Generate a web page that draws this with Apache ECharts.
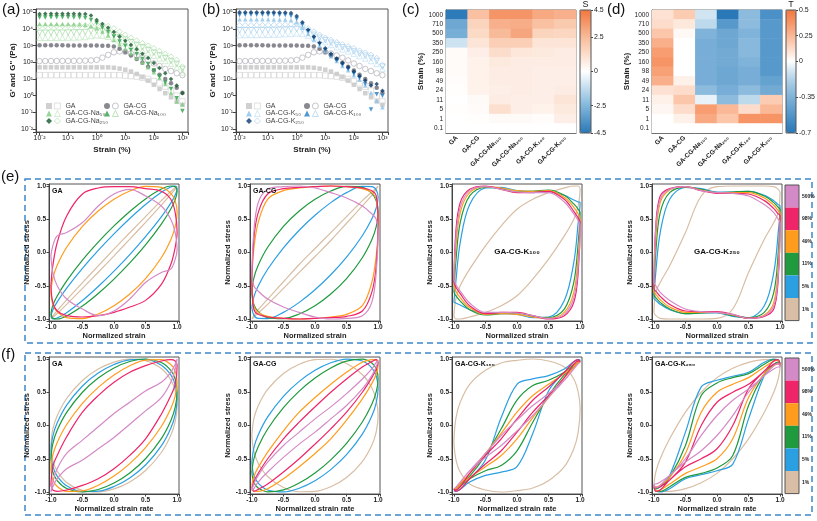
<!DOCTYPE html>
<html><head><meta charset="utf-8">
<script src="https://cdn.jsdelivr.net/npm/echarts@6/dist/echarts.min.js"></script>
<style>html,body{margin:0;padding:0;background:#fff}#c{width:817px;height:521px}</style>
</head><body><div id="c"></div>
<script>
// ================= DATA =================
// (a)/(b) amplitude sweeps: strain (%) and moduli (Pa)
const strainPct = [0.01,0.0158,0.0251,0.0398,0.0631,0.1,0.158,0.251,0.398,0.631,1,1.58,2.51,3.98,6.31,10,15.8,25.1,39.8,63.1,100,158,251,398,631,1000];
const GA_Gp    = [50,50,50,50,50,50,50,50,50,50,50,50,50,47,42,36,28,20,13,8,4.5,2.5,1.4,0.8,0.45,0.28];
const GA_Gpp   = [17,17,17,17,17,17,17,17,17,17,17,17,17,17,17,16,15,14,12,10,7.5,5.5,3.5,2,1,0.45];
const GACG_Gp  = [1050,1050,1040,1040,1040,1030,1030,1030,1020,1020,1010,1000,980,900,650,420,260,160,95,55,32,18,10,5.5,3,1.5];
const GACG_Gpp = [118,119,120,120,121,121,122,123,125,130,140,190,280,400,450,420,340,260,190,130,85,60,40,30,22,17];
const Na50_Gp   = [20000,20000,20000,19800,19800,19600,19500,19200,18000,15000,11000,7000,4000,2200,1200,650,350,190,100,50,25,12,5,1.5,0.45,0.3];
const Na50_Gpp  = [2950,2980,3000,3000,3020,3050,3100,3180,3300,3800,4200,4000,3400,2600,1900,1400,1000,700,500,350,250,170,120,80,50,25];
const Na100_Gp  = [49000,49500,50000,50000,50000,49800,49500,49000,45000,35000,22000,12000,6500,3500,1800,1000,550,300,160,80,32,14,6,2.5,0.7,0.12];
const Na100_Gpp = [5900,5950,6000,6000,6050,6100,6200,6300,6600,7500,8000,7500,6000,4500,3200,2300,1600,1100,800,550,380,260,180,120,80,40];
const Na250_Gp  = [80000,81000,82000,82000,82000,81500,81000,80500,79000,65000,35000,20000,12000,6500,3600,2000,1100,600,330,180,90,45,22,10,4,1.4];
const Na250_Gpp = [14500,14700,14800,15000,15000,15200,15500,16000,16500,17500,19000,18000,15000,11000,7000,4500,3000,2000,1400,1000,700,480,330,220,140,55];
const K50_Gp    = [38000,38000,38500,38500,38000,38000,37500,37000,36500,35000,25000,12000,5000,2200,1000,480,230,120,60,33,17,9,4,1.5,0.5,0.2];
const K50_Gpp   = [4300,4350,4400,4400,4450,4500,4600,4750,4900,5000,5500,5000,4000,3000,2200,1600,1100,800,600,450,330,240,170,120,80,40];
const K100_Gp   = [70000,71000,72000,72000,72000,71500,71000,70000,69000,60000,40000,18000,7000,2800,1200,550,260,130,70,38,20,11,5,0.15,1.2,1.0];
const K100_Gpp  = [8300,8400,8500,8500,8600,8700,8800,9000,9200,9500,10000,9000,6500,4500,3000,2100,1500,1100,800,600,450,330,250,180,120,55];
const K250_Gp   = [100000,101000,102000,102000,102000,101000,100000,99000,97000,90000,60000,25000,9000,3500,1500,700,330,170,90,50,28,15,8,4,5,2];
const K250_Gpp  = [16500,16700,16800,17000,17000,17200,17500,18000,18500,19000,20000,16000,11000,7000,4500,3000,2200,1600,1200,900,700,500,380,280,180,70];

// (c)/(d) heatmaps: rows top -> bottom, one array per sample column
const heatSamples = ['GA','GA-CG','GA-CG-Na₁₀₀','GA-CG-Na₂₅₀','GA-CG-K₁₀₀','GA-CG-K₂₅₀'];
const strainRows = ['1000','710','500','350','250','160','98','49','24','11','5','1','0.1'];
const S_GA    = [-4.4,-3.0,-2.8,-1.0,0.15,0.15,0.15,0.1,0.05,0,0.05,0,0];
const S_GACG  = [2.3,1.6,1.4,1.0,0.6,0.5,0.5,0.5,0.5,0.2,0.15,0.05,0];
const S_Na100 = [3.6,2.8,2.5,1.8,1.3,0.8,0.7,0.7,0.6,0.7,1.2,0.2,0];
const S_Na250 = [3.6,2.9,3.1,1.8,0.9,0.7,0.7,0.7,0.7,0.6,0.6,0.2,0];
const S_K100  = [3.0,2.3,1.6,1.0,0.8,0.7,0.6,0.6,0.6,0.6,0.5,0.1,0];
const S_K250  = [2.8,2.0,1.5,1.0,0.7,0.7,0.6,0.6,0.7,1.0,0.8,0.6,0];
const T_GA    = [0.1,0.12,0.2,0.28,0.35,0.38,0.33,0.28,0.1,0.05,0.03,0,0];
const T_GACG  = [0.18,0.08,0.02,0,0,0,0,0.05,0.12,0.2,0.12,0.05,0];
const T_Na100 = [-0.1,-0.15,-0.35,-0.38,-0.38,-0.38,-0.38,-0.38,-0.3,-0.05,0.35,0.3,0];
const T_Na250 = [-0.7,-0.5,-0.42,-0.42,-0.4,-0.4,-0.42,-0.42,-0.38,-0.3,0.25,0.2,0];
const T_K100  = [-0.3,-0.3,-0.35,-0.32,-0.32,-0.35,-0.38,-0.38,-0.3,-0.15,0.12,0.38,0];
const T_K250  = [-0.55,-0.5,-0.5,-0.5,-0.5,-0.5,-0.5,-0.45,-0.4,0.18,0.25,0.38,0];
const S_ticks = [4.5,2.5,0,-2.5,-4.5];
const T_ticks = [0.5,0.25,0,-0.35,-0.7];

// (e)/(f) Lissajous loops: shared normalized x grid, upper & lower branch per amplitude
const pctNames = ['1%','5%','11%','49%','98%','500%'];
const xsGrid = [-1,-0.97,-0.9,-0.75,-0.5,-0.25,0,0.25,0.5,0.75,0.9,0.97,1];
const eGA_up = [
 [-0.995,-0.953,-0.874,-0.713,-0.454,-0.2,0.05,0.297,0.54,0.779,0.917,0.977,0.995],
 [-0.96,-0.863,-0.742,-0.535,-0.238,0.031,0.28,0.511,0.722,0.905,0.986,0.999,0.96],
 [-0.92,-0.795,-0.654,-0.426,-0.114,0.157,0.4,0.617,0.806,0.954,1.0,0.989,0.92],
 [-0.6,-0.388,-0.191,0.079,0.393,0.624,0.8,0.924,0.993,0.979,0.889,0.776,0.6],
 [-0.5,-0.2,0.15,0.55,0.88,0.97,0.99,0.99,0.96,0.92,0.8,0.6,0.3],
 [-0.05,0.1,0.25,0.3,0.45,0.7,0.88,0.95,0.85,0.7,0.5,0.3,0.05]];
const eGA_lo = [
 [-0.995,-0.977,-0.917,-0.779,-0.54,-0.297,-0.05,0.2,0.454,0.713,0.874,0.953,0.995],
 [-0.96,-0.999,-0.986,-0.905,-0.722,-0.511,-0.28,-0.031,0.238,0.535,0.742,0.863,0.96],
 [-0.92,-0.989,-1.0,-0.954,-0.806,-0.617,-0.4,-0.157,0.114,0.426,0.654,0.795,0.92],
 [-0.6,-0.776,-0.889,-0.979,-0.993,-0.924,-0.8,-0.624,-0.393,-0.079,0.191,0.388,0.6],
 [-0.5,-0.75,-0.88,-0.95,-0.97,-0.95,-0.9,-0.82,-0.72,-0.48,-0.18,0.08,0.3],
 [-0.05,-0.3,-0.5,-0.7,-0.85,-0.95,-0.88,-0.7,-0.45,-0.3,-0.25,-0.1,0.05]];
const eGACG_up = [
 [-1,-0.95,-0.86,-0.7,-0.44,-0.18,0.06,0.3,0.54,0.78,0.91,0.97,1],
 [-0.83,-0.669,-0.503,-0.252,0.07,0.335,0.56,0.75,0.9,0.993,0.991,0.941,0.83],
 [-0.6,-0.388,-0.191,0.079,0.393,0.624,0.8,0.924,0.993,0.979,0.889,0.776,0.6],
 [-0.4,0.05,0.45,0.8,0.93,0.97,0.99,1.0,0.99,0.96,0.9,0.8,0.4],
 [-0.45,0.2,0.6,0.88,0.96,0.98,0.99,1.0,0.99,0.97,0.93,0.85,0.45],
 [-0.3,0.3,0.75,0.95,0.99,1.0,0.97,0.9,0.82,0.7,0.58,0.5,0.3]];
const eGACG_lo = [
 [-1,-0.97,-0.91,-0.78,-0.54,-0.3,-0.06,0.18,0.44,0.7,0.86,0.95,1],
 [-0.83,-0.941,-0.991,-0.993,-0.9,-0.75,-0.56,-0.335,-0.07,0.252,0.503,0.669,0.83],
 [-0.6,-0.776,-0.889,-0.979,-0.993,-0.924,-0.8,-0.624,-0.393,-0.079,0.191,0.388,0.6],
 [-0.4,-0.8,-0.9,-0.96,-0.99,-1.0,-0.99,-0.97,-0.93,-0.8,-0.45,-0.05,0.4],
 [-0.45,-0.85,-0.93,-0.97,-0.99,-1.0,-0.99,-0.98,-0.96,-0.88,-0.6,-0.2,0.45],
 [-0.3,-0.5,-0.58,-0.7,-0.82,-0.9,-0.97,-1.0,-0.99,-0.95,-0.75,-0.3,0.3]];
const eK100_up = [
 [-0.95,-0.7,-0.5,-0.25,0.1,0.4,0.65,0.8,0.9,0.97,1.0,1.0,0.95],
 [-0.75,-0.45,0.15,0.72,0.97,0.98,0.93,0.92,0.92,0.86,0.79,0.76,0.75],
 [-0.6,-0.15,0.45,0.85,0.98,0.96,0.91,0.92,0.94,0.86,0.73,0.65,0.6],
 [-0.5,0.05,0.6,0.9,0.99,0.97,0.93,0.92,0.93,0.83,0.68,0.58,0.5],
 [-0.45,0.3,0.75,0.95,1.0,0.95,0.9,0.9,0.92,0.8,0.62,0.52,0.45],
 [-0.4,0.2,0.68,0.93,0.99,0.95,0.91,0.9,0.9,0.76,0.58,0.48,0.4]];
const eK100_lo = [
 [-0.95,-1.0,-1.0,-0.97,-0.9,-0.8,-0.65,-0.4,-0.1,0.25,0.5,0.7,0.95],
 [-0.75,-0.76,-0.79,-0.86,-0.92,-0.92,-0.93,-0.98,-0.97,-0.72,-0.15,0.45,0.75],
 [-0.6,-0.65,-0.73,-0.86,-0.94,-0.92,-0.91,-0.96,-0.98,-0.85,-0.45,0.15,0.6],
 [-0.5,-0.58,-0.68,-0.83,-0.93,-0.92,-0.93,-0.97,-0.99,-0.9,-0.6,-0.05,0.5],
 [-0.45,-0.52,-0.62,-0.8,-0.92,-0.9,-0.9,-0.95,-1.0,-0.95,-0.75,-0.3,0.45],
 [-0.4,-0.48,-0.58,-0.76,-0.9,-0.9,-0.91,-0.95,-0.99,-0.93,-0.68,-0.2,0.4]];
const eK250_up = [
 [-0.9,-0.6,-0.45,-0.2,0.3,0.85,0.99,1.0,1.0,1.0,0.99,0.95,0.9],
 [-0.7,-0.3,0.3,0.8,0.98,0.96,0.91,0.91,0.92,0.86,0.78,0.72,0.7],
 [-0.65,0.0,0.6,0.9,0.98,0.95,0.9,0.91,0.92,0.85,0.75,0.68,0.65],
 [-0.6,0.2,0.75,0.94,0.99,0.94,0.9,0.9,0.9,0.82,0.71,0.63,0.6],
 [-0.55,0.4,0.85,0.96,0.99,0.93,0.89,0.89,0.88,0.78,0.66,0.58,0.55],
 [-0.45,0.35,0.8,0.95,0.99,0.93,0.9,0.89,0.85,0.72,0.6,0.5,0.45]];
const eK250_lo = [
 [-0.9,-0.95,-0.99,-1.0,-1.0,-1.0,-0.99,-0.85,-0.3,0.2,0.45,0.6,0.9],
 [-0.7,-0.72,-0.78,-0.86,-0.92,-0.91,-0.91,-0.96,-0.98,-0.8,-0.3,0.3,0.7],
 [-0.65,-0.68,-0.75,-0.85,-0.92,-0.91,-0.9,-0.95,-0.98,-0.9,-0.6,0.0,0.65],
 [-0.6,-0.63,-0.71,-0.82,-0.9,-0.9,-0.9,-0.94,-0.99,-0.94,-0.75,-0.2,0.6],
 [-0.55,-0.58,-0.66,-0.78,-0.88,-0.89,-0.89,-0.93,-0.99,-0.96,-0.85,-0.4,0.55],
 [-0.45,-0.5,-0.6,-0.72,-0.85,-0.89,-0.9,-0.93,-0.99,-0.95,-0.8,-0.35,0.45]];
const fGA_up = [
 [-0.3,-0.059,0.146,0.406,0.676,0.848,0.954,0.998,0.976,0.856,0.686,0.523,0.3],
 [-0.4,-0.165,0.04,0.306,0.594,0.788,0.917,0.988,0.994,0.906,0.76,0.611,0.4],
 [-0.5,-0.275,-0.072,0.197,0.5,0.713,0.866,0.963,1.0,0.947,0.828,0.695,0.5],
 [-0.65,-0.446,-0.254,0.015,0.333,0.573,0.76,0.898,0.983,0.99,0.916,0.815,0.65],
 [-0.9,-0.62,-0.45,-0.17,0.2,0.45,0.65,0.8,0.9,0.97,0.99,0.97,0.9],
 [-1.0,-0.85,-0.65,-0.42,-0.22,-0.02,0.18,0.35,0.52,0.65,0.8,0.92,1.0]];
const fGA_lo = [
 [-0.3,-0.523,-0.686,-0.856,-0.976,-0.998,-0.954,-0.848,-0.676,-0.406,-0.146,0.059,0.3],
 [-0.4,-0.611,-0.76,-0.906,-0.994,-0.988,-0.917,-0.788,-0.594,-0.306,-0.04,0.165,0.4],
 [-0.5,-0.695,-0.828,-0.947,-1.0,-0.963,-0.866,-0.713,-0.5,-0.197,0.072,0.275,0.5],
 [-0.65,-0.815,-0.916,-0.99,-0.983,-0.898,-0.76,-0.573,-0.333,-0.015,0.254,0.446,0.65],
 [-0.9,-0.97,-0.99,-0.97,-0.9,-0.8,-0.65,-0.45,-0.2,0.17,0.45,0.62,0.9],
 [-1.0,-0.92,-0.8,-0.65,-0.52,-0.35,-0.18,0.02,0.22,0.42,0.65,0.85,1.0]];
const fGACG_up = [
 [-0.15,0.095,0.297,0.542,0.782,0.921,0.99,0.996,0.932,0.767,0.567,0.386,0.15],
 [-0.56,-0.341,-0.142,0.129,0.439,0.663,0.83,0.943,0.999,0.969,0.866,0.745,0.56],
 [-0.7,-0.506,-0.319,-0.053,0.268,0.516,0.714,0.866,0.968,0.997,0.941,0.852,0.7],
 [-0.9,-0.77,-0.63,-0.4,-0.08,0.2,0.42,0.62,0.8,0.95,0.99,0.98,0.9],
 [-0.95,-0.85,-0.72,-0.5,-0.2,0.05,0.28,0.5,0.7,0.88,0.96,0.99,0.95],
 [-0.98,-0.88,-0.75,-0.55,-0.3,-0.1,0.1,0.28,0.48,0.7,0.85,0.95,0.98]];
const fGACG_lo = [
 [-0.15,-0.386,-0.567,-0.767,-0.932,-0.996,-0.99,-0.921,-0.782,-0.542,-0.297,-0.095,0.15],
 [-0.56,-0.745,-0.866,-0.969,-0.999,-0.943,-0.83,-0.663,-0.439,-0.129,0.142,0.341,0.56],
 [-0.7,-0.852,-0.941,-0.997,-0.968,-0.866,-0.714,-0.516,-0.268,0.053,0.319,0.506,0.7],
 [-0.9,-0.98,-0.99,-0.95,-0.8,-0.62,-0.42,-0.2,0.08,0.4,0.63,0.77,0.9],
 [-0.95,-0.99,-0.96,-0.88,-0.7,-0.5,-0.28,-0.05,0.2,0.5,0.72,0.85,0.95],
 [-0.98,-0.95,-0.85,-0.7,-0.48,-0.28,-0.1,0.1,0.3,0.55,0.75,0.88,0.98]];
const fK100_up = [
 [-0.25,0.1,0.35,0.62,0.83,0.94,0.98,1.0,0.97,0.88,0.7,0.5,0.25],
 [-0.98,-0.96,-0.9,-0.8,-0.52,0.12,0.62,0.7,0.75,0.85,0.96,0.99,0.98],
 [-0.97,-0.95,-0.88,-0.76,-0.45,-0.05,0.38,0.6,0.68,0.8,0.92,0.97,0.97],
 [-0.96,-0.94,-0.87,-0.72,-0.42,-0.12,0.2,0.45,0.62,0.78,0.9,0.96,0.96],
 [-0.95,-0.97,-0.92,-0.72,-0.45,-0.2,0.1,0.38,0.58,0.8,0.96,0.99,0.95],
 [-0.95,-0.93,-0.85,-0.68,-0.42,-0.15,0.08,0.3,0.48,0.68,0.85,0.93,0.95]];
const fK100_lo = [
 [-0.25,-0.5,-0.7,-0.88,-0.97,-1.0,-0.98,-0.94,-0.83,-0.62,-0.35,-0.1,0.25],
 [-0.98,-0.99,-0.96,-0.85,-0.75,-0.7,-0.62,-0.12,0.52,0.8,0.9,0.96,0.98],
 [-0.97,-0.97,-0.92,-0.8,-0.68,-0.6,-0.38,0.05,0.45,0.76,0.88,0.95,0.97],
 [-0.96,-0.96,-0.9,-0.78,-0.62,-0.45,-0.2,0.12,0.42,0.72,0.87,0.94,0.96],
 [-0.95,-0.99,-0.96,-0.8,-0.58,-0.38,-0.1,0.2,0.45,0.72,0.92,0.97,0.95],
 [-0.95,-0.93,-0.85,-0.68,-0.48,-0.3,-0.08,0.15,0.42,0.68,0.85,0.93,0.95]];
const fK250_up = [
 [-0.9,-0.7,-0.5,-0.2,0.2,0.5,0.72,0.86,0.95,0.99,0.99,0.96,0.9],
 [-0.93,-0.95,-0.92,-0.75,-0.1,0.58,0.68,0.74,0.8,0.95,1.0,0.98,0.93],
 [-0.93,-0.95,-0.92,-0.78,-0.3,0.45,0.64,0.72,0.78,0.92,0.99,0.98,0.93],
 [-0.92,-0.93,-0.9,-0.78,-0.42,0.2,0.5,0.62,0.72,0.88,0.97,0.98,0.92],
 [-0.9,-0.93,-0.92,-0.82,-0.55,0.0,0.35,0.5,0.62,0.82,0.97,0.99,0.9],
 [-0.88,-0.88,-0.85,-0.75,-0.5,-0.15,0.15,0.38,0.55,0.75,0.9,0.94,0.88]];
const fK250_lo = [
 [-0.9,-0.96,-0.99,-0.99,-0.95,-0.86,-0.72,-0.5,-0.2,0.2,0.5,0.7,0.9],
 [-0.93,-0.98,-1.0,-0.95,-0.8,-0.74,-0.68,-0.58,0.1,0.75,0.92,0.95,0.93],
 [-0.93,-0.98,-0.99,-0.92,-0.78,-0.72,-0.64,-0.45,0.3,0.78,0.92,0.95,0.93],
 [-0.92,-0.98,-0.97,-0.88,-0.72,-0.62,-0.5,-0.2,0.42,0.78,0.9,0.93,0.92],
 [-0.9,-0.99,-0.97,-0.82,-0.62,-0.5,-0.35,0.0,0.55,0.82,0.92,0.93,0.9],
 [-0.88,-0.94,-0.9,-0.75,-0.55,-0.38,-0.15,0.15,0.5,0.75,0.85,0.88,0.88]];

// ================= STYLE / BUILD =================
const FONT = '"Liberation Sans", Arial, sans-serif';
const TXT = '#222';
const AX = '#444';
const loopColors = ['#d8bea4','#2a9fe2','#1f9a3e','#ff9c1e','#ef2469','#d48ac6'];
const drawOrder = [0,5,1,2,3,4];

const grids=[], xAxes=[], yAxes=[], series=[], legends=[], visualMaps=[], graphics=[];
function addGrid(g){ grids.push(Object.assign({show:true, borderColor:'#555', borderWidth:1, backgroundColor:'transparent', outerBoundsMode:'none', containLabel:false}, g)); return grids.length-1; }

const supMap = {'-':'⁻','0':'⁰','1':'¹','2':'²','3':'³','4':'⁴','5':'⁵'};
function logLabel(v){ const e=Math.log10(v), r=Math.round(e); if(Math.abs(e-r)>0.01) return ''; return '10'+String(r).split('').map(c=>supMap[c]).join(''); }
function tick05(v){ return Math.abs(v*2-Math.round(v*2))<1e-6 ? v.toFixed(1) : ''; }

// ---- (a), (b) ----
function logPanel(left, samples){
  const g = addGrid({left, top:9, width:152, height:123});
  const common = {type:'log', gridIndex:g, axisLine:{onZero:false, lineStyle:{color:AX}}, axisTick:{length:3, lineStyle:{color:AX}},
    axisLabel:{formatter:logLabel, fontSize:7, margin:3, color:TXT, fontFamily:FONT}, splitLine:{show:false},
    nameLocation:'middle', nameTextStyle:{fontWeight:'bold', fontSize:8, color:TXT, fontFamily:FONT}};
  xAxes.push(Object.assign({min:0.0075, max:1567, name:'Strain (%)', nameGap:14}, common));
  yAxes.push(Object.assign({min:0.0066, max:158000, name:"G' and G'' (Pa)", nameGap:16}, common));
  const pos = [[10,102.5],[68,102.5],[10,110],[68,110],[10,117.5]];
  samples.forEach((s,k)=>{
    const nP = left+'|'+s.label+'|p', nPP = left+'|'+s.label+'|pp';
    series.push({type:'scatter', name:nPP, xAxisIndex:g, yAxisIndex:g, symbol:s.sym, symbolRotate:s.rot, symbolSize:5.5,
      data: strainPct.map((x,i)=>[x, s.gpp[i]]), itemStyle:{color:'rgba(255,255,255,0)', borderColor:s.colO, borderWidth:0.8}, silent:true, z:2});
    series.push({type:'scatter', name:nP, xAxisIndex:g, yAxisIndex:g, symbol:s.sym, symbolRotate:s.rot, symbolSize:4.5,
      data: strainPct.map((x,i)=>[x, s.gp[i]]), itemStyle:{color:s.col}, silent:true, z:3});
    const lab = {}; lab[nPP] = s.label;
    legends.push({left:left+pos[k][0], top:pos[k][1], padding:0, itemWidth:6, itemHeight:6, itemGap:2, selectedMode:false,
      data:[{name:nP, itemStyle:{color:s.col, borderWidth:0}}, {name:nPP, itemStyle:{color:'#fff', borderColor:s.colO, borderWidth:0.8}}],
      formatter:(n)=>lab[n]||'', textStyle:{fontSize:7, color:'#444', fontFamily:FONT}});
  });
}
const sGA   = {label:'GA', gp:GA_Gp, gpp:GA_Gpp, col:'#c4c4c4', colO:'#cfcfcf', sym:'rect', rot:0};
const sGACG = {label:'GA-CG', gp:GACG_Gp, gpp:GACG_Gpp, col:'#6a6a74', colO:'#a5a5ae', sym:'circle', rot:0};
logPanel(36, [sGA, sGACG,
  {label:'GA-CG-Na₅₀', gp:Na50_Gp, gpp:Na50_Gpp, col:'#7fcd7f', colO:'#b9e3b9', sym:'triangle', rot:0},
  {label:'GA-CG-Na₁₀₀', gp:Na100_Gp, gpp:Na100_Gpp, col:'#2c9f48', colO:'#97d497', sym:'triangle', rot:180},
  {label:'GA-CG-Na₂₅₀', gp:Na250_Gp, gpp:Na250_Gpp, col:'#15572a', colO:'#a6d9a6', sym:'diamond', rot:0}]);
logPanel(236, [sGA, sGACG,
  {label:'GA-CG-K₅₀', gp:K50_Gp, gpp:K50_Gpp, col:'#8cc3ea', colO:'#bcdcf3', sym:'triangle', rot:0},
  {label:'GA-CG-K₁₀₀', gp:K100_Gp, gpp:K100_Gpp, col:'#2b7ec3', colO:'#9dcbee', sym:'triangle', rot:180},
  {label:'GA-CG-K₂₅₀', gp:K250_Gp, gpp:K250_Gpp, col:'#0d3a6b', colO:'#a6cde8', sym:'diamond', rot:0}]);

// ---- (c), (d) heatmaps ----
const rowsBottomUp = strainRows.slice().reverse();
function heatPanel(left, cols, barLeft, barW, vmin, vmax, colors, ticks, title){
  const g = addGrid({left, top:10, width:130, height:123, borderColor:'#666'});
  xAxes.push({type:'category', gridIndex:g, data:heatSamples, axisLine:{onZero:false, lineStyle:{color:AX}}, axisTick:{length:2, alignWithLabel:true, lineStyle:{color:AX}},
    axisLabel:{rotate:45, interval:0, fontSize:6.5, fontWeight:'bold', color:TXT, margin:4, fontFamily:FONT}, splitLine:{show:false}});
  yAxes.push({type:'category', gridIndex:g, data:rowsBottomUp, axisLine:{onZero:false, lineStyle:{color:AX}}, axisTick:{length:2, alignWithLabel:true, lineStyle:{color:AX}},
    axisLabel:{interval:0, fontSize:6.5, color:TXT, margin:3, fontFamily:FONT}, splitLine:{show:false},
    name:'Strain (%)', nameLocation:'middle', nameGap:18, nameTextStyle:{fontWeight:'bold', fontSize:8, color:TXT, fontFamily:FONT}});
  const data=[];
  cols.forEach((arr,j)=>arr.forEach((v,i)=>data.push([j, strainRows.length-1-i, v])));
  series.push({type:'heatmap', xAxisIndex:g, yAxisIndex:g, data, itemStyle:{borderWidth:0}, emphasis:{disabled:true}, silent:true, progressive:0});
  visualMaps.push({type:'continuous', seriesIndex:series.length-1, min:vmin, max:vmax, left:barLeft, top:10, itemWidth:barW, itemHeight:123,
    calculable:false, padding:0, text:null, orient:'vertical', inRange:{color:colors}, hoverLink:false});
  const gb = addGrid({left:barLeft, top:10, width:barW, height:123, show:false});
  xAxes.push({type:'value', gridIndex:gb, show:false, min:0, max:1});
  yAxes.push({type:'value', gridIndex:gb, position:'right', min:vmin, max:vmax, axisLine:{show:false, onZero:false}, splitLine:{show:false},
    axisTick:{show:true, length:2, customValues:ticks, lineStyle:{color:AX}},
    axisLabel:{customValues:ticks, formatter:(v)=>String(v), fontSize:7, color:TXT, margin:3, fontFamily:FONT}});
  graphics.push({type:'rect', shape:{x:barLeft, y:10, width:barW, height:123}, style:{fill:null, stroke:'#555', lineWidth:1}, z:100, silent:true});
  graphics.push({type:'text', x:barLeft+barW/2, y:0, style:{text:title, font:'9px '+FONT, fill:TXT, align:'center', verticalAlign:'top'}, z:100});
}
heatPanel(446, [S_GA,S_GACG,S_Na100,S_Na250,S_K100,S_K250], 580, 11, -4.5, 4.5,
  ['#2a78b7','#8ebfe0','#ffffff','#f9c3a4','#f2773f'], S_ticks, 'S');
heatPanel(652, [T_GA,T_GACG,T_Na100,T_Na250,T_K100,T_K250], 786, 10, -0.7, 0.5,
  ['#2a78b7','#3f89c2','#5799cb','#72aad4','#8dbbdd','#aacde6','#d0e4f1','#ffffff','#fde2d3','#fbc6a9','#f9a982','#f68f5f','#f2773f'], T_ticks, 'T');

// ---- (e), (f) loops ----
function loopData(up, lo){
  const pts=[];
  for(let i=0;i<xsGrid.length;i++) pts.push([xsGrid[i], up[i]]);
  for(let i=xsGrid.length-2;i>=0;i--) pts.push([xsGrid[i], lo[i]]);
  return pts;
}
function valAxis(g, name, isX){
  return {type:'value', gridIndex:g, min:-1.03, max:1.03, splitNumber:4,
    axisLine:{onZero:false, lineStyle:{color:AX}}, axisTick:{length:2.5, lineStyle:{color:AX}},
    axisLabel:{formatter:tick05, fontSize:6.5, fontWeight:'bold', color:TXT, margin:3, fontFamily:FONT},
    splitLine:{show:false}, name, nameLocation:'middle', nameGap:isX?11:15,
    nameTextStyle:{fontSize:7.5, fontWeight:'bold', color:TXT, fontFamily:FONT}};
}
function loopPanel(left, top, ups, los, xName){
  const g = addGrid({left, top, width:130, height:137});
  xAxes.push(valAxis(g, xName, true));
  yAxes.push(valAxis(g, 'Normalized stress', false));
  drawOrder.forEach(k=>series.push({type:'line', name:pctNames[k], xAxisIndex:g, yAxisIndex:g, data:loopData(ups[k], los[k]),
    showSymbol:false, smooth:0.35, color:loopColors[k], lineStyle:{width:1.2, color:loopColors[k]}, silent:true, z:2+k}));
}
const lefts=[49,250,452,652];
loopPanel(lefts[0],184,eGA_up,eGA_lo,'Normalized strain');
loopPanel(lefts[1],184,eGACG_up,eGACG_lo,'Normalized strain');
loopPanel(lefts[2],184,eK100_up,eK100_lo,'Normalized strain');
loopPanel(lefts[3],184,eK250_up,eK250_lo,'Normalized strain');
loopPanel(lefts[0],357,fGA_up,fGA_lo,'Normalized strain rate');
loopPanel(lefts[1],357,fGACG_up,fGACG_lo,'Normalized strain rate');
loopPanel(lefts[2],357,fK100_up,fK100_lo,'Normalized strain rate');
loopPanel(lefts[3],357,fK250_up,fK250_lo,'Normalized strain rate');
[185,358].forEach(t=>{
  legends.push({orient:'vertical', left:785, top:t, padding:0, itemWidth:14, itemHeight:22.6, itemGap:0, icon:'rect', selectedMode:false,
    data:pctNames.slice().reverse(), textStyle:{fontSize:5, fontWeight:'bold', color:TXT, fontFamily:FONT, padding:[0,0,0,-2]}});
  graphics.push({type:'rect', shape:{x:785, y:t, width:14, height:135.6}, style:{fill:null, stroke:'#555', lineWidth:1}, z:100, silent:true});
});

// ---- decorations ----
const dash = {fill:null, stroke:'#3b86c8', lineWidth:1.5, lineDash:[6,4]};
graphics.push({type:'rect', shape:{x:25, y:179, width:787, height:164}, style:dash, silent:true});
graphics.push({type:'rect', shape:{x:25, y:353, width:787, height:162}, style:dash, silent:true});
[['(a)',2,2],['(b)',202,2],['(c)',402,2],['(d)',607,2],['(e)',1,169],['(f)',1,347]].forEach(p=>
  graphics.push({type:'text', x:p[1], y:p[2], style:{text:p[0], font:'15px '+FONT, fill:'#111'}, z:100}));
const tagFont = 'bold 7px '+FONT;
[['GA',52,188],['GA-CG',253,188],['GA',52,361],['GA-CG',253,361],['GA-CG-K₁₀₀',455,361],['GA-CG-K₂₅₀',655,361]].forEach(p=>
  graphics.push({type:'text', x:p[1], y:p[2], style:{text:p[0], font:tagFont, fill:'#111'}, z:100}));
[['GA-CG-K₁₀₀',517,252],['GA-CG-K₂₅₀',717,252]].forEach(p=>
  graphics.push({type:'text', x:p[1], y:p[2], style:{text:p[0], font:'bold 8px '+FONT, fill:'#111', align:'center', verticalAlign:'middle'}, z:100}));

const chart = echarts.init(document.getElementById('c'), null, {renderer:'canvas', width:817, height:521});
chart.setOption({
  animation:false, backgroundColor:'#fff', textStyle:{fontFamily:FONT},
  grid:grids, xAxis:xAxes, yAxis:yAxes, series, legend:legends, visualMap:visualMaps, graphic:graphics
});
</script></body></html>
